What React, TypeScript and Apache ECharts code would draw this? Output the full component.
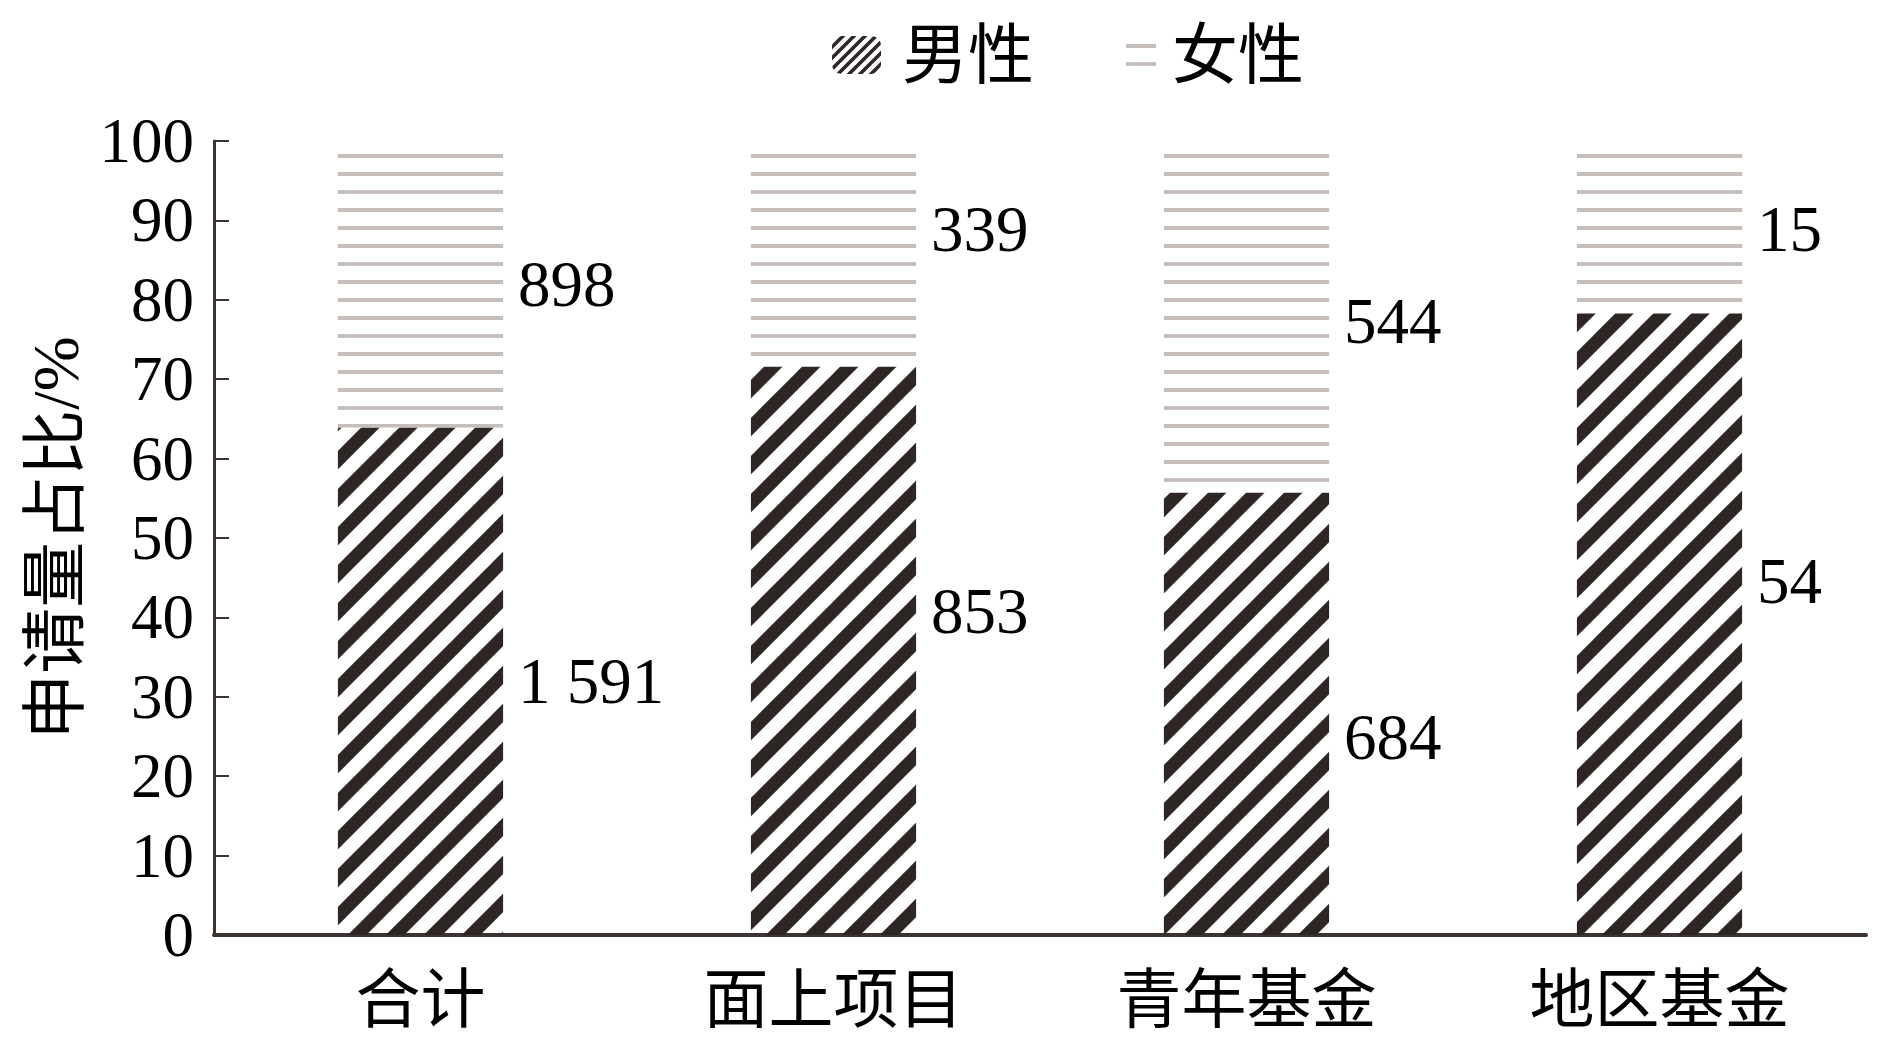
import React, { useEffect, useRef } from "react";
import * as echarts from "echarts";

const categories = ["合计", "面上项目", "青年基金", "地区基金"];
const maleCounts = [1591, 853, 684, 54];
const femaleCounts = [898, 339, 544, 15];
const seriesNames = ["男性", "女性"];
const yAxisName = "申请量占比/%";

// manual vertical nudges of the value labels, as placed in the original figure (px)
const maleLabelShift = [0, -40, 23, -43];
const femaleLabelShift = [0, -25, 4, 2];

const FONT = "'Liberation Serif', 'Noto Sans CJK SC', serif";

function fmtCount(n: number): string {
  const s = String(n);
  return s.length > 3 ? s.slice(0, -3) + " " + s.slice(-3) : s;
}

function makeHatch(size: number, width: number): HTMLCanvasElement {
  const c = document.createElement("canvas");
  c.width = size;
  c.height = size;
  const ctx = c.getContext("2d")!;
  ctx.strokeStyle = "#2e2624";
  ctx.lineWidth = width;
  ctx.lineCap = "square";
  for (const o of [-size, 0, size]) {
    ctx.beginPath();
    ctx.moveTo(o, size);
    ctx.lineTo(o + size, 0);
    ctx.stroke();
  }
  return c;
}

function makeLines(): HTMLCanvasElement {
  const c = document.createElement("canvas");
  c.width = 18;
  c.height = 18;
  const ctx = c.getContext("2d")!;
  ctx.fillStyle = "#c6bebb";
  ctx.fillRect(0, 10, 18, 4);
  return c;
}

export default function App() {
  const ref = useRef<HTMLDivElement>(null);

  useEffect(() => {
    if (!ref.current) return;
    const chart = echarts.init(ref.current, undefined, { renderer: "svg" });
    const hatch = makeHatch(38, 13);
    const hatchSmall = makeHatch(11, 3.5);
    const lines = makeLines();
    const malePct = maleCounts.map((m, i) => (m / (m + femaleCounts[i])) * 100);
    const femalePct = malePct.map((p) => 100 - p);

    const textBase = { fontFamily: FONT, fontSize: 62, color: "#000" };
    const labelBase = { fontFamily: FONT, fontSize: 65, color: "#000" };

    chart.setOption({
      animation: false,
      backgroundColor: "#fff",
      legend: [
        {
          data: [
            {
              name: seriesNames[0],
              itemStyle: { color: { image: hatchSmall, repeat: "repeat", imageWidth: 11, imageHeight: 11 } },
            },
          ],
          left: 827,
          top: 17,
          itemWidth: 49,
          itemHeight: 38,
          textStyle: { ...textBase, fontSize: 66, padding: [0, 0, 0, 16] },
        },
        {
          data: [seriesNames[1]],
          left: 1121,
          top: 17,
          itemWidth: 30,
          itemHeight: 42,
          textStyle: { ...textBase, fontSize: 66, padding: [0, 0, 0, 11] },
        },
      ],
      grid: { left: 214, right: 24, top: 141, bottom: 110, containLabel: false },
      xAxis: {
        type: "category",
        data: categories,
        boundaryGap: true,
        axisLine: { lineStyle: { color: "#3b3431", width: 4 } },
        axisTick: { inside: true, length: 13, lineStyle: { color: "#3b3431", width: 2 } },
        axisLabel: { ...textBase, fontSize: 65, margin: 32 },
      },
      yAxis: {
        type: "value",
        min: 0,
        max: 100,
        interval: 10,
        name: yAxisName,
        nameLocation: "middle",
        nameGap: 120,
        nameTextStyle: { ...textBase, fontSize: 66 },
        axisLine: { show: true, lineStyle: { color: "#3b3431", width: 3 } },
        axisTick: { show: true, inside: true, length: 15, lineStyle: { color: "#3b3431", width: 2 } },
        axisLabel: { ...textBase, fontSize: 63, margin: 20 },
        splitLine: { show: false },
      },
      series: [
        {
          name: seriesNames[0],
          type: "bar",
          stack: "total",
          barCategoryGap: "60%",
          data: malePct.map((v, i) => ({ value: v, label: { offset: [0, maleLabelShift[i]] } })),
          itemStyle: {
            color: { image: hatch, repeat: "repeat", imageWidth: 38, imageHeight: 38 },
          },
          label: {
            show: true,
            position: "right",
            distance: 15,
            ...labelBase,
            formatter: (p: any) => fmtCount(maleCounts[p.dataIndex]),
          },
        },
        {
          name: seriesNames[1],
          type: "bar",
          stack: "total",
          barCategoryGap: "60%",
          data: femalePct.map((v, i) => ({ value: v, label: { offset: [0, femaleLabelShift[i]] } })),
          itemStyle: {
            color: { image: lines, repeat: "repeat", imageWidth: 18, imageHeight: 18 },
          },
          label: {
            show: true,
            position: "right",
            distance: 15,
            ...labelBase,
            formatter: (p: any) => fmtCount(femaleCounts[p.dataIndex]),
          },
        },
      ],
    });

    return () => chart.dispose();
  }, []);

  return (
    <div
      ref={ref}
      style={{ position: "fixed", left: 0, top: 0, width: 1890, height: 1045, background: "#fff" }}
    />
  );
}
